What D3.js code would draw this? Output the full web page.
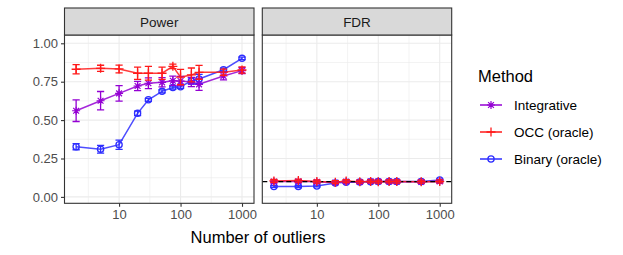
<!DOCTYPE html>
<html><head><meta charset="utf-8">
<script src="https://cdn.jsdelivr.net/npm/d3@7"></script>
<style>body{margin:0;background:#fff}svg{display:block;font-family:"Liberation Sans",Arial,sans-serif}</style>
</head><body><svg id="c" width="623" height="255"></svg>
<script>
// ---- data ----
const xValues = [2,5,10,20,30,50,75,100,150,200,500,1000];
const panels = ["Power","FDR"];
const methods = ["Integrative","OCC (oracle)","Binary (oracle)"];
const powerIntegrative = [0.561,0.626,0.674,0.722,0.740,0.746,0.756,0.754,0.748,0.733,0.787,0.822];
const powerIntegrativeErr = [0.07,0.06,0.05,0.03,0.035,0.03,0.03,0.03,0.03,0.04,0.025,0.02];
const powerOCC = [0.831,0.837,0.833,0.805,0.805,0.805,0.850,0.780,0.794,0.811,0.812,0.826];
const powerOCCErr = [0.03,0.02,0.025,0.04,0.045,0.04,0.015,0.05,0.045,0.045,0.02,0.02];
const powerBinary = [0.327,0.310,0.340,0.544,0.632,0.687,0.712,0.717,0.755,0.768,0.828,0.902];
const powerBinaryErr = [0.02,0.025,0.03,0.015,0.01,0.01,0.01,0.01,0.02,0.03,0.01,0.008];
const fdrIntegrative = [0.100,0.102,0.098,0.094,0.100,0.097,0.102,0.100,0.100,0.099,0.098,0.100];
const fdrIntegrativeErr = [0.01,0.01,0.01,0.01,0.01,0.01,0.01,0.01,0.01,0.01,0.01,0.01];
const fdrOCC = [0.104,0.106,0.100,0.096,0.103,0.099,0.101,0.099,0.101,0.100,0.099,0.101];
const fdrOCCErr = [0.01,0.01,0.01,0.01,0.01,0.01,0.01,0.01,0.01,0.01,0.01,0.01];
const fdrBinary = [0.068,0.067,0.071,0.090,0.096,0.097,0.099,0.100,0.100,0.100,0.101,0.110];
const fdrBinaryErr = [0.006,0.006,0.006,0.006,0.006,0.006,0.006,0.006,0.006,0.006,0.006,0.006];
const fdrTarget = 0.1;
const yTicks = [0,0.25,0.5,0.75,1];
const yMinor = [0.125,0.375,0.625,0.875];
const xTicks = [10,100,1000];
const xMinor = [Math.sqrt(10),Math.sqrt(1000),Math.sqrt(100000)];

const series = {
  Power: [powerIntegrative, powerOCC, powerBinary],
  FDR: [fdrIntegrative, fdrOCC, fdrBinary]
};
const errs = {
  Power: [powerIntegrativeErr, powerOCCErr, powerBinaryErr],
  FDR: [fdrIntegrativeErr, fdrOCCErr, fdrBinaryErr]
};
const colors = ["#9400D3","#FF1A1A","#2E2EFF"];

// ---- layout ----
const svg = d3.select("#c");
const panelX = [[64.5,254],[262.3,451.7]];
const pTop = 35, pBottom = 203.3, stripTop = 8;
const y = d3.scaleLinear().domain([-0.0417,1.054]).range([pBottom,pTop]);

function shape(g, m, cx, cy, col){
  if(m===0){ // asterisk
    const r=4, d=2.9;
    g.append("path").attr("d",`M${cx-r},${cy}H${cx+r}M${cx},${cy-r}V${cy+r}M${cx-d},${cy-d}L${cx+d},${cy+d}M${cx-d},${cy+d}L${cx+d},${cy-d}`)
      .attr("stroke",col).attr("stroke-width",1.2).attr("fill","none");
  } else if(m===1){ // plus
    const r=4.5;
    g.append("path").attr("d",`M${cx-r},${cy}H${cx+r}M${cx},${cy-r}V${cy+r}`)
      .attr("stroke",col).attr("stroke-width",1.3).attr("fill","none");
  } else {
    g.append("circle").attr("cx",cx).attr("cy",cy).attr("r",3.1)
      .attr("stroke",col).attr("stroke-width",1.3).attr("fill","none");
  }
}

panels.forEach((p,pi)=>{
  const [x0,x1] = panelX[pi];
  const x = d3.scaleLog().domain([1.294,1567]).range([x0,x1]);
  const g = svg.append("g");
  g.append("rect").attr("x",x0).attr("y",pTop).attr("width",x1-x0).attr("height",pBottom-pTop).attr("fill","#fff");
  // grid
  const gc = g.append("g").attr("stroke","#EBEBEB");
  yMinor.forEach(v=>gc.append("line").attr("x1",x0).attr("x2",x1).attr("y1",y(v)).attr("y2",y(v)).attr("stroke-width",0.6));
  xMinor.forEach(v=>gc.append("line").attr("y1",pTop).attr("y2",pBottom).attr("x1",x(v)).attr("x2",x(v)).attr("stroke-width",0.6));
  yTicks.forEach(v=>gc.append("line").attr("x1",x0).attr("x2",x1).attr("y1",y(v)).attr("y2",y(v)).attr("stroke-width",1.1));
  xTicks.forEach(v=>gc.append("line").attr("y1",pTop).attr("y2",pBottom).attr("x1",x(v)).attr("x2",x(v)).attr("stroke-width",1.1));

  const data = series[p], er = errs[p];
  const line = d3.line().x((d,i)=>x(xValues[i])).y(d=>y(d));
  const order = [2,0,1];
  order.forEach(m=>{
    g.append("path").datum(data[m]).attr("d",line).attr("fill","none")
      .attr("stroke",colors[m]).attr("stroke-width",1.5).attr("stroke-opacity",0.85);
  });
  if(p==="FDR"){
    g.append("line").attr("x1",x0).attr("x2",x1).attr("y1",y(fdrTarget)).attr("y2",y(fdrTarget))
      .attr("stroke","#000").attr("stroke-width",1.2).attr("stroke-dasharray","5,3");
  }
  order.forEach(m=>{
    data[m].forEach((v,i)=>{
      const cx = x(xValues[i]), e = er[m][i], w=3.6;
      g.append("path").attr("d",`M${cx-w},${y(v+e)}H${cx+w}M${cx},${y(v+e)}V${y(v-e)}M${cx-w},${y(v-e)}H${cx+w}`)
        .attr("stroke",colors[m]).attr("stroke-width",1.3).attr("fill","none");
      shape(g,m,cx,y(v),colors[m]);
    });
  });
  // border
  g.append("rect").attr("x",x0).attr("y",pTop).attr("width",x1-x0).attr("height",pBottom-pTop)
    .attr("fill","none").attr("stroke","#333").attr("stroke-width",1.1);
  // strip
  g.append("rect").attr("x",x0).attr("y",stripTop).attr("width",x1-x0).attr("height",pTop-stripTop)
    .attr("fill","#D9D9D9").attr("stroke","#333").attr("stroke-width",1.1);
  g.append("text").attr("x",(x0+x1)/2).attr("y",26.5).attr("text-anchor","middle")
    .attr("font-size",13.5).attr("fill","#1A1A1A").text(p);
  // x axis
  const xa = g.append("g").attr("transform",`translate(0,${pBottom})`)
    .call(d3.axisBottom(x).tickValues(xTicks).tickFormat(d3.format("d")).tickSize(3.5).tickPadding(3));
  xa.select(".domain").remove();
  xa.selectAll("line").attr("stroke","#333").attr("stroke-width",1.1);
  xa.selectAll("text").attr("font-size",13).attr("fill","#4D4D4D").attr("font-family","Liberation Sans, Arial, sans-serif");
  if(pi===0){
    const ya = g.append("g").attr("transform",`translate(${x0},0)`)
      .call(d3.axisLeft(y).tickValues(yTicks).tickFormat(d3.format(".2f")).tickSize(3.5).tickPadding(3));
    ya.select(".domain").remove();
    ya.selectAll("line").attr("stroke","#333").attr("stroke-width",1.1);
    ya.selectAll("text").attr("font-size",13).attr("fill","#4D4D4D").attr("font-family","Liberation Sans, Arial, sans-serif");
  }
});

svg.append("text").attr("x",258).attr("y",242.5).attr("text-anchor","middle")
  .attr("font-size",16.5).attr("fill","#000").text("Number of outliers");

// legend
const lg = svg.append("g");
lg.append("text").attr("x",478).attr("y",82).attr("font-size",16.5).attr("fill","#000").text("Method");
methods.forEach((m,i)=>{
  const cy = 105 + i*27;
  lg.append("line").attr("x1",480).attr("x2",502).attr("y1",cy).attr("y2",cy)
    .attr("stroke",colors[i]).attr("stroke-width",1.5);
  shape(lg,i,491,cy,colors[i]);
  lg.append("text").attr("x",514).attr("y",cy+4.8).attr("font-size",13.5).attr("fill","#000").text(m);
});
</script></body></html>
